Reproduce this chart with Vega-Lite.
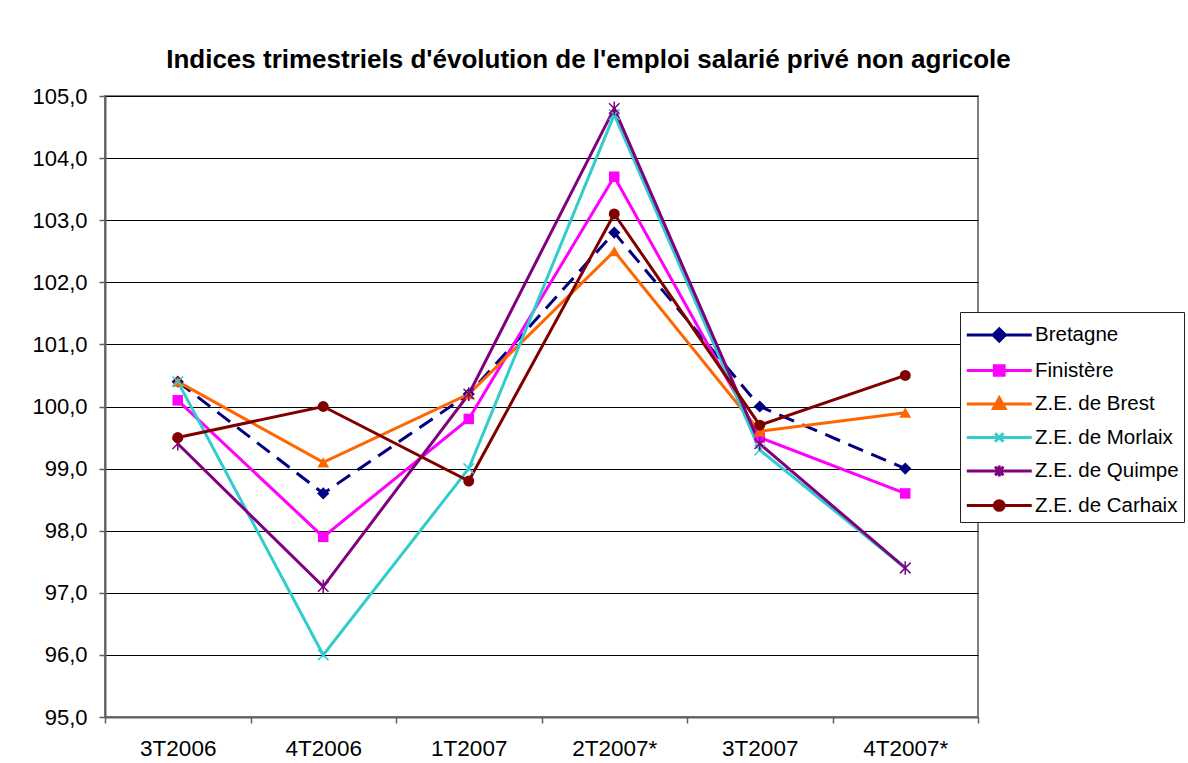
{
  "$schema": "https://vega.github.io/schema/vega-lite/v6.json",
  "autosize": {"type": "none"},
  "width": 873,
  "height": 621,
  "padding": {"left": 105, "top": 96, "right": 210, "bottom": 46},
  "background": "white",
  "title": {
    "text": "Indices trimestriels d'évolution de l'emploi salarié privé non agricole",
    "font": "Liberation Sans",
    "fontSize": 26,
    "fontWeight": "bold",
    "color": "#000000",
    "anchor": "middle",
    "frame": "group",
    "dx": 47,
    "dy": 27,
    "baseline": "alphabetic",
    "offset": 18
  },
  "config": {
    "view": {"stroke": "#808080", "strokeWidth": 2},
    "axis": {
      "labelFont": "Liberation Sans",
      "labelColor": "#000000",
      "domainColor": "#606060",
      "domainWidth": 2,
      "tickColor": "#606060",
      "tickWidth": 1.5,
      "tickSize": 6,
      "title": null
    }
  },
  "data": {
    "values": [
      {"periode": "3T2006", "serie": "Bretagne", "valeur": 100.4},
      {"periode": "4T2006", "serie": "Bretagne", "valeur": 98.6},
      {"periode": "1T2007", "serie": "Bretagne", "valeur": 100.2},
      {"periode": "2T2007*", "serie": "Bretagne", "valeur": 102.8},
      {"periode": "3T2007", "serie": "Bretagne", "valeur": 100.0},
      {"periode": "4T2007*", "serie": "Bretagne", "valeur": 99.0},
      {"periode": "3T2006", "serie": "Finistère", "valeur": 100.1},
      {"periode": "4T2006", "serie": "Finistère", "valeur": 97.9},
      {"periode": "1T2007", "serie": "Finistère", "valeur": 99.8},
      {"periode": "2T2007*", "serie": "Finistère", "valeur": 103.7},
      {"periode": "3T2007", "serie": "Finistère", "valeur": 99.5},
      {"periode": "4T2007*", "serie": "Finistère", "valeur": 98.6},
      {"periode": "3T2006", "serie": "Z.E. de Brest", "valeur": 100.4},
      {"periode": "4T2006", "serie": "Z.E. de Brest", "valeur": 99.1},
      {"periode": "1T2007", "serie": "Z.E. de Brest", "valeur": 100.2},
      {"periode": "2T2007*", "serie": "Z.E. de Brest", "valeur": 102.5},
      {"periode": "3T2007", "serie": "Z.E. de Brest", "valeur": 99.6},
      {"periode": "4T2007*", "serie": "Z.E. de Brest", "valeur": 99.9},
      {"periode": "3T2006", "serie": "Z.E. de Morlaix", "valeur": 100.4},
      {"periode": "4T2006", "serie": "Z.E. de Morlaix", "valeur": 96.0},
      {"periode": "1T2007", "serie": "Z.E. de Morlaix", "valeur": 99.0},
      {"periode": "2T2007*", "serie": "Z.E. de Morlaix", "valeur": 104.7},
      {"periode": "3T2007", "serie": "Z.E. de Morlaix", "valeur": 99.3},
      {"periode": "4T2007*", "serie": "Z.E. de Morlaix", "valeur": 97.4},
      {"periode": "3T2006", "serie": "Z.E. de Quimpe", "valeur": 99.4},
      {"periode": "4T2006", "serie": "Z.E. de Quimpe", "valeur": 97.1},
      {"periode": "1T2007", "serie": "Z.E. de Quimpe", "valeur": 100.2},
      {"periode": "2T2007*", "serie": "Z.E. de Quimpe", "valeur": 104.8},
      {"periode": "3T2007", "serie": "Z.E. de Quimpe", "valeur": 99.4},
      {"periode": "4T2007*", "serie": "Z.E. de Quimpe", "valeur": 97.4},
      {"periode": "3T2006", "serie": "Z.E. de Carhaix", "valeur": 99.5},
      {"periode": "4T2006", "serie": "Z.E. de Carhaix", "valeur": 100.0},
      {"periode": "1T2007", "serie": "Z.E. de Carhaix", "valeur": 98.8},
      {"periode": "2T2007*", "serie": "Z.E. de Carhaix", "valeur": 103.1},
      {"periode": "3T2007", "serie": "Z.E. de Carhaix", "valeur": 99.7},
      {"periode": "4T2007*", "serie": "Z.E. de Carhaix", "valeur": 100.5}
    ]
  },
  "encoding": {
    "x": {
      "field": "periode",
      "type": "ordinal",
      "bandPosition": 0.5,
      "scale": {"type": "band", "paddingInner": 0, "paddingOuter": 0, "domain": ["3T2006", "4T2006", "1T2007", "2T2007*", "3T2007", "4T2007*"]},
      "axis": {"labelAngle": 0, "labelFontSize": 22.5, "labelPadding": 14, "tickBand": "extent", "grid": false}
    },
    "y": {
      "field": "valeur",
      "type": "quantitative",
      "scale": {"domain": [95, 105], "nice": false, "zero": false},
      "axis": {
        "values": [95, 96, 97, 98, 99, 100, 101, 102, 103, 104, 105],
        "labelExpr": "replace(format(datum.value, '.1f'), '.', ',')",
        "labelFontSize": 22,
        "labelPadding": 12,
        "grid": true,
        "gridColor": "#000000",
        "gridWidth": 1.2
      }
    },
    "color": {
      "field": "serie",
      "type": "nominal",
      "scale": {
        "domain": ["Bretagne", "Finistère", "Z.E. de Brest", "Z.E. de Morlaix", "Z.E. de Quimpe", "Z.E. de Carhaix"],
        "range": ["#000080", "#FF00FF", "#FF6600", "#33CCCC", "#800080", "#800000"]
      },
      "legend": {
        "title": null,
        "orient": "none",
        "legendX": 855,
        "legendY": 216,
        "padding": 5,
        "fillColor": "#ffffff",
        "strokeColor": "#202020",
        "labelFont": "Liberation Sans",
        "labelFontSize": 20.5,
        "labelColor": "#000000",
        "labelOffset": 34,
        "rowPadding": 4.5,
        "symbolSize": 1056,
        "symbolStrokeWidth": 3,
        "encode": {
          "symbols": {
            "update": {
              "shape": {"signal": "datum.value === 'Bretagne' ? 'M-1,0H3M1,-0.38L1.38,0L1,0.38L0.62,0Z' : datum.value === 'Finistère' ? 'M-1,0H3M0.7,-0.3H1.3V0.3H0.7Z' : datum.value === 'Z.E. de Brest' ? 'M-1,0H3M1,-0.38L1.36,0.28H0.64Z' : datum.value === 'Z.E. de Morlaix' ? 'M-1,0H3M0.74,-0.26L1.26,0.26M0.74,0.26L1.26,-0.26' : datum.value === 'Z.E. de Quimpe' ? 'M-1,0H3M0.74,-0.26L1.26,0.26M0.74,0.26L1.26,-0.26M1,-0.34V0.34' : 'M-1,0H3M1.3,0A0.3,0.3 0 1,1 0.7,0A0.3,0.3 0 1,1 1.3,0Z'"},
              "fill": {"signal": "scale('color', datum.value)"},
              "stroke": {"signal": "scale('color', datum.value)"},
              "strokeWidth": {"value": 3},
              "opacity": {"value": 1},
              "fillOpacity": {"value": 1}
            }
          }
        }
      }
    }
  },
  "layer": [
    {
      "transform": [{"filter": "datum.serie === 'Bretagne'"}],
      "mark": {"type": "line", "strokeWidth": 3, "strokeDash": [16, 9], "color": "#000080"},
      "encoding": {"color": {"value": "#000080"}}
    },
    {
      "transform": [{"filter": "datum.serie !== 'Bretagne'"}],
      "mark": {"type": "line", "strokeWidth": 3}
    },
    {
      "transform": [{"filter": "datum.serie === 'Bretagne'"}],
      "mark": {"type": "point", "filled": true, "size": 150, "opacity": 1, "shape": "diamond"}
    },
    {
      "transform": [{"filter": "datum.serie === 'Finistère'"}],
      "mark": {"type": "point", "filled": true, "size": 110, "opacity": 1, "shape": "square"}
    },
    {
      "transform": [{"filter": "datum.serie === 'Z.E. de Brest'"}],
      "mark": {"type": "point", "filled": true, "size": 140, "opacity": 1, "shape": "triangle-up"}
    },
    {
      "transform": [{"filter": "datum.serie === 'Z.E. de Morlaix'"}],
      "mark": {"type": "point", "filled": false, "size": 110, "strokeWidth": 1.5, "opacity": 1, "shape": "M-1,-1L1,1M-1,1L1,-1"}
    },
    {
      "transform": [{"filter": "datum.serie === 'Z.E. de Quimpe'"}],
      "mark": {"type": "point", "filled": false, "size": 110, "strokeWidth": 1.5, "opacity": 1, "shape": "M-1,-1L1,1M-1,1L1,-1M0,-1.3V1.3"}
    },
    {
      "transform": [{"filter": "datum.serie === 'Z.E. de Carhaix'"}],
      "mark": {"type": "point", "filled": true, "size": 120, "opacity": 1, "shape": "circle"}
    }
  ]
}
